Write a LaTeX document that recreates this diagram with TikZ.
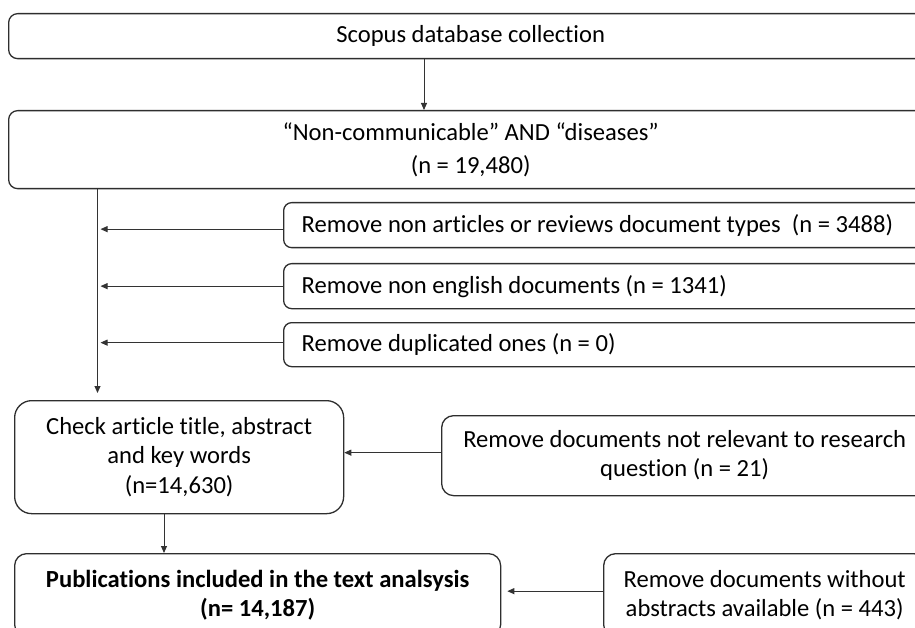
\documentclass[tikz,border=0pt]{standalone}
\usepackage{fontspec}
\setmainfont{Carlito}[Ligatures=NoCommon]
\usetikzlibrary{arrows.meta}
\definecolor{edgegray}{HTML}{2E2E2E}
\definecolor{linkgray}{HTML}{333333}
\tikzset{
  flowbox/.style={draw=edgegray, line width=1.3pt, fill=white, rounded corners=9pt,
    anchor=north west, inner sep=0pt, font=\fontsize{24.6}{31}\selectfont},
  sidebox/.style={flowbox, rounded corners=8pt},
  link/.style={draw=linkgray, line width=0.95pt, -{Triangle[length=7pt,width=6pt]}}
}
\newcommand{\lefttext}[1]{\makebox[635pt][l]{\hspace*{12pt}#1}}
\begin{document}
\begin{tikzpicture}[x=1pt,y=-1pt]
\useasboundingbox (0,0) rectangle (915,628);
\clip (0,0) rectangle (915,628);

% main column
\node[flowbox, minimum width=924pt, minimum height=45pt] (src) at (8,13)
  {\raisebox{-2.5pt}{Scopus database collection}};
\node[flowbox, minimum width=924pt, minimum height=78pt, align=center,
  font=\fontsize{24.6}{33}\selectfont] (query) at (8,110)
  {“Non-communicable” AND “diseases”\\(n = 19,480)};
\node[flowbox, rounded corners=17pt, minimum width=329pt, minimum height=113pt,
  align=center, font=\fontsize{24.6}{29.5}\selectfont] (screen) at (14,400)
  {Check article title, abstract\\and key words\\(n=14,630)};
\node[flowbox, rounded corners=12pt, minimum width=486pt, minimum height=83pt,
  align=center, font=\fontsize{24.6}{29}\selectfont\bfseries] (final) at (14,553)
  {Publications included in the text analsysis\\(n= 14,187)};

% exclusion boxes
\node[sidebox, minimum width=647pt, minimum height=45pt] (exA) at (283,202)
  {\lefttext{Remove non articles or reviews document types~~(n = 3488)}};
\node[sidebox, minimum width=647pt, minimum height=45pt] (exB) at (283,263)
  {\lefttext{Remove non english documents (n = 1341)}};
\node[sidebox, minimum width=647pt, minimum height=44pt] (exC) at (283,322)
  {\lefttext{Remove duplicated ones (n = 0)}};
\node[flowbox, rounded corners=12pt, minimum width=486pt, minimum height=80pt,
  align=center, font=\fontsize{24.6}{29}\selectfont] (exD) at (441,415)
  {Remove documents not relevant to research\\question (n = 21)};
\node[flowbox, rounded corners=12pt, minimum width=322pt, minimum height=83pt,
  align=center, font=\fontsize{24.6}{29}\selectfont] (exE) at (603,553)
  {Remove documents without\\abstracts available (n = 443)};

% connector guides
\coordinate (c1) at (424,0);
\coordinate (trunk) at (97.5,0);
\coordinate (c3) at (164,0);

\draw[link] (src.south -| c1) -- (query.north -| c1);
\draw[link, shorten >=7pt] (query.south -| trunk) -- (screen.north -| trunk);
\draw[link, shorten >=3pt] ([yshift=-4pt]exA.west) -- ([yshift=-4pt]exA.west -| trunk);
\draw[link, shorten >=3pt] (exB.west) -- (exB.west -| trunk);
\draw[link, shorten >=3pt] ([yshift=2pt]exC.west) -- ([yshift=2pt]exC.west -| trunk);
\draw[link] ([yshift=3pt]exD.west) -- ([yshift=3pt]exD.west -| screen.east);
\draw[link] (screen.south -| c3) -- (final.north -| c3);
\draw[link, shorten >=6pt] ([yshift=4pt]exE.west) -- ([yshift=4pt]exE.west -| final.east);
\end{tikzpicture}
\end{document}
